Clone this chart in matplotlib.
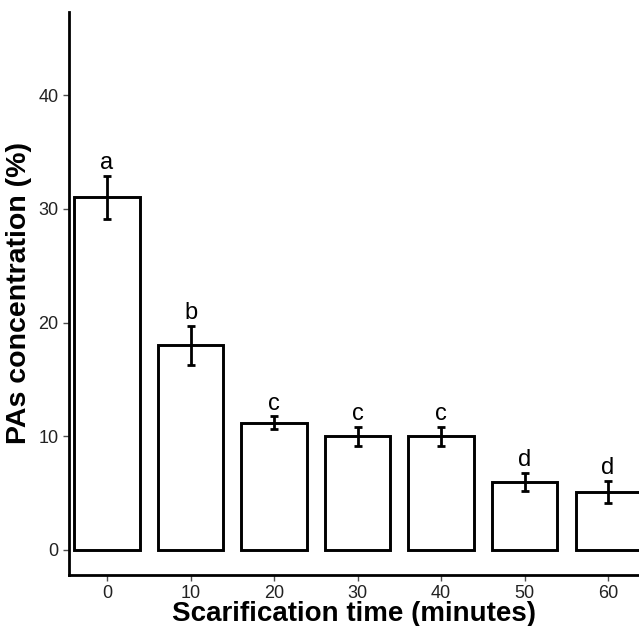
import matplotlib
matplotlib.use('Agg')
import matplotlib.pyplot as plt
import numpy as np

# data
times = ['0', '10', '20', '30', '40', '50', '60']
conc = [31.0, 18.0, 11.2, 10.0, 10.0, 6.0, 5.1]
err = [1.9, 1.7, 0.55, 0.85, 0.85, 0.8, 0.95]
letters = ['a', 'b', 'c', 'c', 'c', 'd', 'd']

plt.rcParams['font.family'] = ['Liberation Sans', 'DejaVu Sans']

fig = plt.figure(figsize=(6.39, 6.26), dpi=100)
ax = fig.add_axes([69/639, 1-575/626, 1-69/639, (575-12)/626])

x = np.arange(len(times))
ax.bar(x, conc, width=0.78, color='white', edgecolor='black', linewidth=2.1, zorder=2)
ax.errorbar(x, conc, yerr=err, fmt='none', ecolor='black', elinewidth=2.0,
            capsize=2.8, capthick=2.0, zorder=3)
for xi, c, e, l in zip(x, conc, err, letters):
    ax.text(xi, c + e + 0.15, l, ha='center', va='bottom', fontsize=17, color='black')

ax.set_xlim(-0.455, 6.37)
ax.set_ylim(-2.2, 47.3)
ax.set_xticks(x)
ax.set_xticklabels(times)
ax.set_yticks([0, 10, 20, 30, 40])
ax.tick_params(axis='both', labelsize=13, colors='#4d4d4d', length=4, width=1)
for lab in ax.get_xticklabels() + ax.get_yticklabels():
    lab.set_color('#222222')

for s in ['top', 'right']:
    ax.spines[s].set_visible(False)
for s in ['left', 'bottom']:
    ax.spines[s].set_linewidth(2.0)

ax.set_xlabel('Scarification time (minutes)', fontsize=20, fontweight='bold', labelpad=-1)
ax.set_ylabel('PAs concentration (%)', fontsize=20.5, fontweight='bold', labelpad=5)

fig.savefig('out.png', dpi=100)
